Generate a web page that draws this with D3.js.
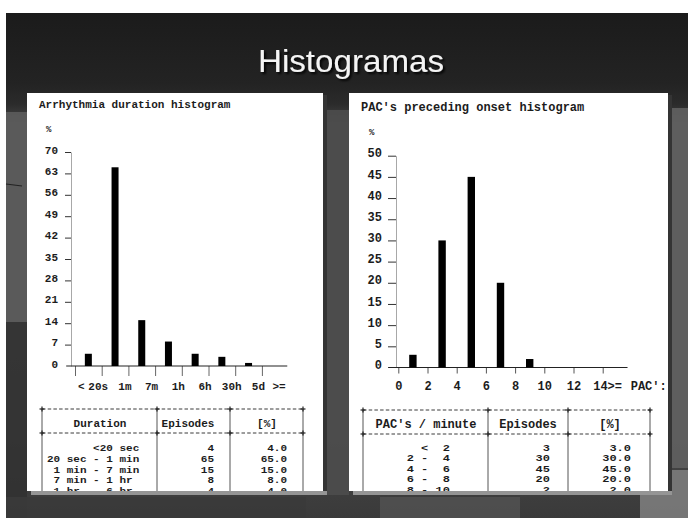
<!DOCTYPE html>
<html>
<head>
<meta charset="utf-8">
<script src="https://cdn.jsdelivr.net/npm/d3@7"></script>
<style>
  html, body { margin: 0; padding: 0; background: #ffffff; }
  svg { display: block; }
  .mono { font-family: "Liberation Mono", "DejaVu Sans Mono", monospace; font-weight: bold; fill: #1c1c1c; }
</style>
</head>
<body>
<svg id="slide" width="688" height="518"></svg>
<script>
// ---------- data ----------
const slideTitle = "Histogramas";

// Arrhythmia duration histogram
const durationTitle = "Arrhythmia duration histogram";
const durationTickLabels = ["<", "20s", "1m", "7m", "1h", "6h", "30h", "5d", ">="];
const durationYTicks = [0, 7, 14, 21, 28, 35, 42, 49, 56, 63, 70];
const durationRows = ["       <20 sec", "20 sec - 1 min", " 1 min - 7 min", " 7 min - 1 hr", " 1 hr  - 6 hr", " 6 hr  - 30 hr", "30 hr  - 5 d"];
const durationEpisodes = [4, 65, 15, 8, 4, 3, 1];
const durationPercent = [4.0, 65.0, 15.0, 8.0, 4.0, 3.0, 1.0];
const durationHeaders = ["Duration", "Episodes", "[%]"];

// PAC's preceding onset histogram
const pacTitle = "PAC's preceding onset histogram";
const pacXTicks = [0, 2, 4, 6, 8, 10, 12, 14];
const pacYTicks = [0, 5, 10, 15, 20, 25, 30, 35, 40, 45, 50];
const pacBinStart = [0, 2, 4, 6, 8];
const pacRows = ["   <  2", " 2 -  4", " 4 -  6", " 6 -  8", " 8 - 10"];
const pacEpisodes = [3, 30, 45, 20, 2];
const pacPercent = [3.0, 30.0, 45.0, 20.0, 2.0];
const pacHeaders = ["PAC's / minute", "Episodes", "[%]"];
const pacUnit = "PAC':";

// ---------- slide background ----------
const svg = d3.select("#slide");
const defs = svg.append("defs");

const bg = defs.append("linearGradient").attr("id", "bgGrad")
  .attr("x1", 0).attr("y1", 0).attr("x2", 0).attr("y2", 1);
[[0, "#1b1b1b"], [0.14, "#232323"], [0.18, "#2b2b2b"], [0.22, "#484848"],
 [0.55, "#4e4e4e"], [0.85, "#454545"], [1, "#3a3a3a"]]
  .forEach(([o, c]) => bg.append("stop").attr("offset", o).attr("stop-color", c));

svg.append("rect").attr("x", 6).attr("y", 13).attr("width", 682).attr("height", 505)
  .attr("fill", "url(#bgGrad)");

// soft patches on the slide texture
const patches = [
  { x: 6, y: 112, w: 21, h: 210, c: "#5c5c5c", o: 0.9 },
  { x: 6, y: 322, w: 21, h: 196, c: "#303030", o: 0.8 },
  { x: 327, y: 110, w: 22, h: 385, c: "#4d4d4d", o: 0.9 },
  { x: 672, y: 108, w: 16, h: 360, c: "#606060", o: 0.9 },
  { x: 640, y: 470, w: 48, h: 48, c: "#7c7c7c", o: 0.9 },
  { x: 6, y: 497, w: 300, h: 21, c: "#3a3a3a", o: 0.9 },
  { x: 380, y: 497, w: 140, h: 21, c: "#555555", o: 0.7 }
];
svg.append("g").selectAll("rect").data(patches).join("rect")
  .attr("x", d => d.x).attr("y", d => d.y).attr("width", d => d.w).attr("height", d => d.h)
  .attr("fill", d => d.c).attr("opacity", d => d.o);
svg.append("line").attr("x1", 6).attr("x2", 22).attr("y1", 184).attr("y2", 186)
  .attr("stroke", "#222").attr("stroke-width", 1.2);

// title with drop shadow
const sh = defs.append("filter").attr("id", "shadow").attr("x", "-10%").attr("y", "-30%")
  .attr("width", "130%").attr("height", "160%");
sh.append("feDropShadow").attr("dx", 2).attr("dy", 2).attr("stdDeviation", 0.8)
  .attr("flood-color", "#000").attr("flood-opacity", 0.9);

svg.append("text")
  .attr("x", 351).attr("y", 72)
  .attr("text-anchor", "middle")
  .attr("font-family", "Liberation Sans, Arial, sans-serif")
  .attr("font-size", 32)
  .attr("textLength", 186).attr("lengthAdjust", "spacingAndGlyphs")
  .attr("fill", "#f4f4f4")
  .attr("filter", "url(#shadow)")
  .text(slideTitle);

// ---------- panels ----------
function panel(id, x, y, w, h) {
  svg.append("rect").attr("x", x + 4).attr("y", y + 4).attr("width", w).attr("height", h)
    .attr("fill", "#959595");
  svg.append("rect").attr("x", x + w).attr("y", y + 2).attr("width", 4).attr("height", h - 2)
    .attr("fill", "#343434");
  svg.append("rect").attr("x", x).attr("y", y).attr("width", w).attr("height", h)
    .attr("fill", "#ffffff");
  defs.append("clipPath").attr("id", id).append("rect")
    .attr("x", x).attr("y", y).attr("width", w).attr("height", h);
  return svg.append("g").attr("clip-path", `url(#${id})`);
}

const left = panel("clipL", 27, 93, 296, 398);
const right = panel("clipR", 349, 93, 319, 398);

// ---------- table helper ----------
function dashedRule(g, x0, x1, y, cols) {
  g.append("line").attr("x1", x0).attr("x2", x1).attr("y1", y).attr("y2", y)
    .attr("stroke", "#3a3a3a").attr("stroke-width", 1).attr("stroke-dasharray", "3.5 2.2");
  cols.forEach(cx => {
    g.append("line").attr("x1", cx - 2.5).attr("x2", cx + 2.5).attr("y1", y).attr("y2", y)
      .attr("stroke", "#222").attr("stroke-width", 1.2);
    g.append("line").attr("x1", cx).attr("x2", cx).attr("y1", y - 2.5).attr("y2", y + 2.5)
      .attr("stroke", "#222").attr("stroke-width", 1.2);
  });
}

function table(g, o) {
  const fmt = d3.format(".1f");
  // vertical column rules
  o.cols.forEach(cx => {
    g.append("line").attr("x1", cx).attr("x2", cx).attr("y1", o.top).attr("y2", 500)
      .attr("stroke", "#555").attr("stroke-width", 1);
  });
  dashedRule(g, o.cols[0], o.cols[3], o.top, o.cols);
  dashedRule(g, o.cols[0], o.cols[3], o.mid, o.cols);

  g.selectAll(null).data(o.headers).join("text")
    .attr("class", "mono").attr("font-size", o.fs)
    .attr("x", (d, i) => o.headX[i]).attr("y", o.top + 18)
    .attr("text-anchor", "middle")
    .text(d => d);

  // body rows use a vertically condensed line-printer face
  const rows = g.append("g").attr("class", "mono").attr("font-size", o.fs);
  const ry = i => o.row0 + i * o.rowStep;
  const at = (x, i) => `translate(${x},${ry(i)}) scale(1,0.74)`;
  rows.selectAll(".lab").data(o.rows).join("text")
    .attr("class", "lab").attr("transform", (d, i) => at(o.labX, i))
    .attr("xml:space", "preserve").style("white-space", "pre")
    .text(d => d);
  rows.selectAll(".ep").data(o.episodes).join("text")
    .attr("class", "ep").attr("transform", (d, i) => at(o.epX, i))
    .attr("text-anchor", "end").text(d => d);
  rows.selectAll(".pc").data(o.percent).join("text")
    .attr("class", "pc").attr("transform", (d, i) => at(o.pcX, i))
    .attr("text-anchor", "end").text(d => fmt(d));
}

// ---------- left: arrhythmia duration ----------
{
  const g = left;
  const fs = 11;
  g.append("text").attr("class", "mono").attr("font-size", fs)
    .attr("x", 39).attr("y", 108).text(durationTitle);
  g.append("text").attr("class", "mono").attr("font-size", 9)
    .attr("x", 46).attr("y", 132).text("%");

  const x = d3.scaleLinear().domain([0, 8]).range([75, 288.6]);
  const y = d3.scaleLinear().domain([0, 70]).range([366, 152]);

  const ya = g.append("g").attr("transform", "translate(71,0)")
    .call(d3.axisLeft(y).tickValues(durationYTicks).tickSize(6).tickSizeOuter(0).tickPadding(7));
  ya.select(".domain").attr("stroke", "#a8a8a8");
  ya.selectAll(".tick line").attr("stroke", "#333");
  ya.selectAll(".tick text").attr("class", "mono").attr("font-size", fs).attr("dy", "0.1em");
  ya.selectAll(".tick").filter(d => d === 0).select("line").remove();

  const xa = g.append("g").attr("transform", `translate(0,${y(0)})`)
    .call(d3.axisBottom(x).tickValues(d3.range(0, 8)).tickSize(10).tickSizeOuter(0).tickFormat(""));
  xa.select(".domain").remove();
  xa.selectAll(".tick line").attr("stroke", "#666");
  g.append("line").attr("x1", x(-0.33)).attr("x2", x(7.95)).attr("y1", y(0)).attr("y2", y(0))
    .attr("stroke", "#222").attr("stroke-width", 1.2);

  g.selectAll(".xl").data(durationTickLabels).join("text")
    .attr("class", "mono").attr("font-size", fs)
    .attr("x", (d, i) => i === 0 ? x(0) + 3 : i === 8 ? x(8) - 3 : x(i) - 3.5)
    .attr("y", 390)
    .attr("text-anchor", (d, i) => i === 0 ? "start" : i === 8 ? "end" : "middle")
    .text(d => d);

  g.selectAll(".bar").data(durationPercent).join("rect")
    .attr("x", (d, i) => x(i + 0.5) - 3.5).attr("width", 7)
    .attr("y", d => y(d)).attr("height", d => Math.max(1.5, y(0) - y(d)))
    .attr("fill", "#000");

  table(g, {
    cols: [42, 157, 230, 303], top: 409, mid: 433, fs: fs,
    headers: durationHeaders, headX: [100, 188, 267],
    rows: durationRows, episodes: durationEpisodes, percent: durationPercent,
    labX: 47, epX: 214, pcX: 287, row0: 451, rowStep: 10.75
  });
}

// ---------- right: PAC's preceding onset ----------
{
  const g = right;
  const fs = 12;
  g.append("text").attr("class", "mono").attr("font-size", fs)
    .attr("x", 361).attr("y", 111).text(pacTitle);
  g.append("text").attr("class", "mono").attr("font-size", 9)
    .attr("x", 369).attr("y", 135).text("%");

  const x = d3.scaleLinear().domain([0, 14]).range([398.3, 602.7]);
  const y = d3.scaleLinear().domain([0, 50]).range([367.5, 155.7]);

  const ya = g.append("g").attr("transform", "translate(396,0)")
    .call(d3.axisLeft(y).tickValues(pacYTicks).tickSize(8).tickSizeOuter(0).tickPadding(6));
  ya.select(".domain").attr("stroke", "#a8a8a8");
  ya.selectAll(".tick line").attr("stroke", "#333");
  ya.selectAll(".tick text").attr("class", "mono").attr("font-size", fs).attr("dy", "0.1em");
  ya.selectAll(".tick").filter(d => d === 0).select("line").remove();

  const xa = g.append("g").attr("transform", `translate(0,${y(0)})`)
    .call(d3.axisBottom(x).tickValues(pacXTicks).tickSize(6).tickSizeOuter(0).tickPadding(10)
      .tickFormat(d => d === 14 ? "14>=" : d));
  xa.select(".domain").remove();
  xa.selectAll(".tick line").attr("stroke", "#555");
  xa.selectAll(".tick text").attr("class", "mono").attr("font-size", fs).attr("dy", "0.55em");
  xa.selectAll(".tick").filter(d => d === 14).select("text")
    .attr("text-anchor", "start").attr("dx", -10);
  g.append("line").attr("x1", x(-0.7)).attr("x2", x(15.7)).attr("y1", y(0)).attr("y2", y(0))
    .attr("stroke", "#222").attr("stroke-width", 1.2);
  g.append("text").attr("class", "mono").attr("font-size", fs)
    .attr("x", x(14) + 28).attr("y", 390).text(pacUnit);

  g.selectAll(".bar").data(pacPercent).join("rect")
    .attr("x", (d, i) => x(pacBinStart[i] + 1) - 3.7).attr("width", 7.4)
    .attr("y", d => y(d)).attr("height", d => y(0) - y(d))
    .attr("fill", "#000");

  table(g, {
    cols: [363, 488, 568, 650], top: 410, mid: 434, fs: fs,
    headers: pacHeaders, headX: [426, 528, 610],
    rows: pacRows, episodes: pacEpisodes, percent: pacPercent,
    labX: 399.5, epX: 550, pcX: 631, row0: 451, rowStep: 10.4
  });
}
</script>
</body>
</html>
